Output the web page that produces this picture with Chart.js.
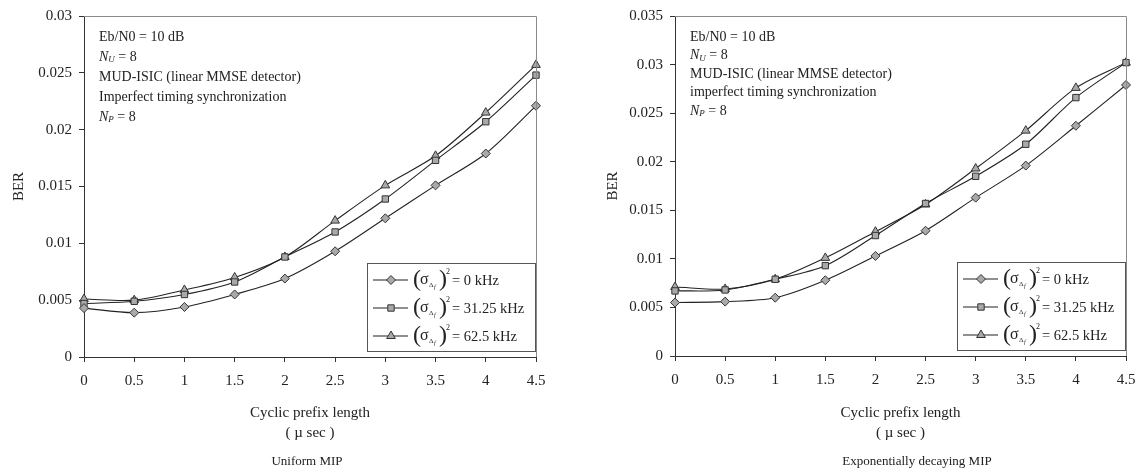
<!DOCTYPE html>
<html>
<head>
<meta charset="utf-8">
<script src="https://cdn.jsdelivr.net/npm/chart.js@4.4.1/dist/chart.umd.min.js"></script>
<style>
  body { margin: 0; background: #fff; }
  .wrap { position: relative; width: 1140px; height: 472px; }
  canvas { position: absolute; top: 0; }
  #uniformChart { left: 0; }
  #expoChart { left: 570px; }
</style>
</head>
<body>
<div class="wrap">
  <canvas id="uniformChart" width="570" height="472"></canvas>
  <canvas id="expoChart" width="570" height="472"></canvas>
</div>
<script>
const serif = '"Liberation Serif", "Times New Roman", serif';
const ink = '#222';

// cyclic prefix length in µsec
const cpLength = [0, 0.5, 1, 1.5, 2, 2.5, 3, 3.5, 4, 4.5];
// frequency offset variance for each curve
const varianceLabels = ['0 kHz', '31.25 kHz', '62.5 kHz'];
const markerStyles = ['rectRot', 'rect', 'triangle'];

// BER, uniform MIP
const uniformBer0 = [0.0043, 0.0039, 0.0044, 0.0055, 0.0069, 0.0093, 0.0122, 0.0151, 0.0179, 0.0221];
const uniformBer3125 = [0.0047, 0.0049, 0.0055, 0.0066, 0.0088, 0.0110, 0.0139, 0.0173, 0.0207, 0.0248];
const uniformBer625 = [0.0051, 0.0050, 0.0059, 0.0070, 0.0088, 0.0120, 0.0151, 0.0177, 0.0215, 0.0257];

// BER, exponentially decaying MIP
const expoBer0 = [0.0055, 0.0056, 0.0060, 0.0078, 0.0103, 0.0129, 0.0163, 0.0196, 0.0237, 0.0279];
const expoBer3125 = [0.0067, 0.0068, 0.0079, 0.0093, 0.0124, 0.0157, 0.0185, 0.0218, 0.0266, 0.0302];
const expoBer625 = [0.0071, 0.0069, 0.0079, 0.0101, 0.0128, 0.0156, 0.0193, 0.0232, 0.0276, 0.0302];

// text runs: t = text, size, italic, dy = baseline shift
function noteLines(timingWord) {
  return [
    [{ t: 'Eb/N0 = 10 dB' }],
    [{ t: 'N', italic: true }, { t: 'U', italic: true, size: 9, dy: 3 }, { t: ' = 8' }],
    [{ t: 'MUD-ISIC (linear MMSE detector)' }],
    [{ t: timingWord + ' timing synchronization' }],
    [{ t: 'N', italic: true }, { t: 'P', italic: true, size: 9, dy: 3 }, { t: ' = 8' }],
  ];
}

function font(size, italic) {
  return (italic ? 'italic ' : '') + size + 'px ' + serif;
}

function drawRuns(ctx, x, y, runs, baseSize) {
  runs.forEach((r) => {
    ctx.font = font(r.size || baseSize, r.italic);
    ctx.fillText(r.t, x, y + (r.dy || 0));
    x += ctx.measureText(r.t).width;
  });
}

// frame, notes, legend box and caption drawn on top of the chart
function decorations(notes, noteGap, captionX, caption) {
  return {
    id: 'decor',
    afterDraw(chart) {
      const ctx = chart.ctx;
      const a = chart.chartArea;
      ctx.save();

      // light top/right frame lines
      ctx.strokeStyle = '#8a8a8a';
      ctx.lineWidth = 1;
      ctx.beginPath();
      ctx.moveTo(a.left, a.top + 0.5);
      ctx.lineTo(a.right + 0.5, a.top + 0.5);
      ctx.lineTo(a.right + 0.5, a.bottom);
      ctx.stroke();

      // notes in the upper left corner
      ctx.fillStyle = ink;
      ctx.textBaseline = 'middle';
      ctx.textAlign = 'left';
      notes.forEach((runs, i) => {
        drawRuns(ctx, a.left + 15, a.top + 21 + i * noteGap, runs, 14);
      });

      // legend box
      const bw = 168, bh = 88;
      const bx = a.right - 1 - bw;
      const by = a.bottom - 6 - bh;
      ctx.fillStyle = '#fff';
      ctx.fillRect(bx, by, bw, bh);
      ctx.strokeStyle = '#555';
      ctx.strokeRect(bx + 0.5, by + 0.5, bw, bh);

      ctx.textBaseline = 'alphabetic';
      chart.data.datasets.forEach((ds, i) => {
        const ry = by + 17 + i * 28;
        ctx.strokeStyle = ink;
        ctx.lineWidth = 1.1;
        ctx.beginPath();
        ctx.moveTo(bx + 6, ry);
        ctx.lineTo(bx + 41, ry);
        ctx.stroke();
        ctx.fillStyle = ds.pointBackgroundColor;
        ctx.strokeStyle = ds.pointBorderColor;
        ctx.lineWidth = 1;
        Chart.helpers.drawPoint(ctx, {
          pointStyle: ds.pointStyle, radius: ds.pointRadius, borderWidth: 1, rotation: 0,
        }, bx + 24, ry);

        ctx.fillStyle = ink;
        ctx.font = font(24);
        ctx.fillText('(', bx + 46, ry + 6);
        ctx.fillText(')', bx + 72, ry + 6);
        ctx.font = font(16);
        ctx.fillText('\u03c3', bx + 53, ry + 4);
        ctx.font = font(7);
        ctx.fillText('\u0394', bx + 62, ry + 7);
        ctx.font = font(6, true);
        ctx.fillText('f', bx + 67, ry + 9);
        ctx.font = font(8);
        ctx.fillText('2', bx + 79, ry - 6);
        ctx.font = font(14.5);
        ctx.fillText('= ' + ds.label, bx + 85, ry + 5);
      });

      // caption under the axis title
      ctx.font = font(13);
      ctx.textAlign = 'center';
      ctx.textBaseline = 'middle';
      ctx.fillText(caption, captionX, 462);
      ctx.restore();
    },
  };
}

function makeChart(id, series, yMax, area, notes, noteGap, captionX, caption) {
  const datasets = series.map((values, i) => ({
    label: varianceLabels[i],
    data: values.map((v, j) => ({ x: cpLength[j], y: v })),
    borderColor: ink,
    borderWidth: 1.1,
    tension: 0.3,
    clip: false,
    pointStyle: markerStyles[i],
    pointRadius: i === 2 ? 5 : 4.5,
    pointBackgroundColor: '#a9a9a9',
    pointBorderColor: '#333',
    pointBorderWidth: 1,
  }));

  const axisGrid = { drawOnChartArea: false, drawTicks: true, tickLength: 5, color: '#333' };

  new Chart(document.getElementById(id), {
    type: 'line',
    data: { datasets },
    plugins: [decorations(notes, noteGap, captionX, caption)],
    options: {
      responsive: false,
      animation: false,
      layout: { padding: { top: area.top, right: 570 - area.right, left: 0, bottom: 0 } },
      plugins: { legend: { display: false }, tooltip: { enabled: false } },
      scales: {
        x: {
          type: 'linear',
          min: 0,
          max: 4.5,
          grid: axisGrid,
          border: { color: '#333', width: 1 },
          ticks: {
            stepSize: 0.5,
            padding: 10,
            color: ink,
            font: { family: serif, size: 15 },
            callback: (v) => String(v),
          },
          title: {
            display: true,
            text: ['Cyclic prefix length', '( \u00b5 sec )'],
            color: ink,
            font: { family: serif, size: 15, lineHeight: 1.33 },
            padding: { top: 0, bottom: 29 },
          },
          // fixed height; edge labels may overhang the plot
          afterFit: (s) => {
            s.height = 472 - area.bottom;
            s.paddingLeft = 0;
            s.paddingRight = 0;
          },
        },
        y: {
          min: 0,
          max: yMax,
          grid: axisGrid,
          border: { color: '#333', width: 1 },
          ticks: {
            stepSize: 0.005,
            padding: 7,
            color: ink,
            font: { family: serif, size: 15 },
            callback: (v) => String(+v.toFixed(3)),
          },
          title: {
            display: true,
            text: 'BER',
            color: ink,
            font: { family: serif, size: 15 },
            padding: { top: area.berPad, bottom: 0 },
          },
          afterFit: (s) => { s.width = area.left; },
        },
      },
    },
  });
}

makeChart('uniformChart', [uniformBer0, uniformBer3125, uniformBer625], 0.03,
  { left: 84, right: 536, top: 16, bottom: 357, berPad: 10 },
  noteLines('Imperfect'), 20, 307, 'Uniform MIP');

makeChart('expoChart', [expoBer0, expoBer3125, expoBer625], 0.035,
  { left: 105, right: 556, top: 16, bottom: 356, berPad: 34 },
  noteLines('imperfect'), 18.5, 347, 'Exponentially decaying MIP');
</script>
</body>
</html>
